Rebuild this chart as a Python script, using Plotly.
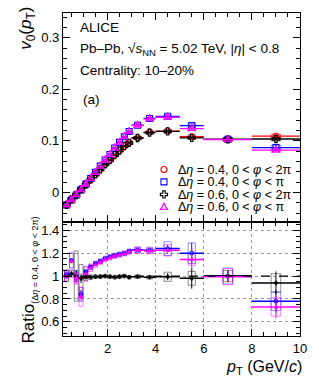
import plotly.graph_objects as go

# ---------------- data ----------------
pt = [0.3, 0.5, 0.7, 0.9, 1.1, 1.3, 1.5, 1.7, 1.9, 2.1, 2.3, 2.5, 2.7, 2.9, 3.25, 3.75, 4.5, 5.5, 7.0, 9.0]
pt_hw = [0.1]*14 + [0.25, 0.25, 0.5, 0.5, 1.0, 1.0]

# v0(pT), Δη=0.4, 0<φ<2π (red)
v0_a = [-0.024, -0.013, -0.005, 0.006, 0.0155, 0.025, 0.035, 0.045, 0.0545, 0.063, 0.073, 0.0815, 0.090, 0.097, 0.106, 0.117, 0.119, 0.108, 0.103, 0.109]
# Δη=0.4, 0<φ<π (blue)
v0_b = [-0.0244, -0.0148, -0.005, 0.005, 0.0161, 0.027, 0.0389, 0.0509, 0.0629, 0.0736, 0.0861, 0.097, 0.108, 0.118, 0.1304, 0.1434, 0.1476, 0.1296, 0.103, 0.087]
# Δη=0.6, 0<φ<2π (black)
v0_c = [-0.024, -0.0133, -0.005, 0.0059, 0.0153, 0.0248, 0.0348, 0.0448, 0.0545, 0.0627, 0.0723, 0.0811, 0.090, 0.096, 0.1055, 0.1158, 0.1183, 0.1058, 0.103, 0.1036]
# Δη=0.6, 0<φ<π (magenta)
v0_d = [-0.024, -0.0147, -0.0049, 0.0049, 0.0158, 0.0268, 0.0385, 0.0504, 0.0624, 0.0731, 0.0858, 0.0966, 0.1076, 0.1174, 0.1299, 0.1427, 0.1458, 0.1237, 0.1025, 0.082]
v0_stat = [0.0008]*14 + [0.001, 0.001, 0.0015, 0.002, 0.003, 0.004]
v0_sys = [0.0015]*14 + [0.002, 0.002, 0.0025, 0.003, 0.003, 0.004]

# ratios to Δη=0.4, 0<φ<2π
r_b = [1.015, 1.137, 1.0, 0.84, 1.04, 1.08, 1.11, 1.13, 1.154, 1.168, 1.18, 1.19, 1.20, 1.217, 1.23, 1.226, 1.24, 1.20, 1.0, 0.78]
r_c = [1.0, 1.02, 1.0, 0.98, 0.99, 0.99, 0.995, 0.995, 1.0, 0.995, 0.99, 0.995, 1.0, 0.99, 0.995, 0.99, 0.994, 0.98, 1.0, 0.94]
r_d = [1.0, 1.13, 0.98, 0.82, 1.02, 1.07, 1.10, 1.12, 1.145, 1.16, 1.175, 1.185, 1.195, 1.21, 1.225, 1.22, 1.225, 1.145, 0.995, 0.73]
r_stat = [0.01, 0.02, 0.05, 0.04, 0.015, 0.01, 0.008, 0.008, 0.008, 0.008, 0.008, 0.008, 0.008, 0.008, 0.01, 0.012, 0.03, 0.09, 0.05, 0.1]
r_b_sys = [0.04, 0.065, 0.05, 0.06, 0.04, 0.025, 0.02, 0.02, 0.02, 0.02, 0.02, 0.02, 0.02, 0.02, 0.025, 0.025, 0.06, 0.09, 0.07, 0.08]
r_c_sys = [0.05, 0.03, 0.22, 0.12, 0.03, 0.02, 0.015, 0.015, 0.015, 0.015, 0.015, 0.015, 0.015, 0.015, 0.015, 0.015, 0.04, 0.06, 0.05, 0.08]
r_d_sys = [0.04, 0.07, 0.05, 0.085, 0.065, 0.03, 0.025, 0.02, 0.02, 0.02, 0.02, 0.02, 0.02, 0.02, 0.025, 0.025, 0.05, 0.05, 0.07, 0.08]

box_hw = [0.08]*14 + [0.12, 0.12, 0.15, 0.15, 0.2, 0.2]

S = "\u00a0"
labels = [f"Δ<i>η</i>{S}={S}0.4,{S}0{S}<{S}<i>φ</i>{S}<{S}2π",
          f"Δ<i>η</i>{S}={S}0.4,{S}0{S}<{S}<i>φ</i>{S}<{S}π",
          f"Δ<i>η</i>{S}={S}0.6,{S}0{S}<{S}<i>φ</i>{S}<{S}2π",
          f"Δ<i>η</i>{S}={S}0.6,{S}0{S}<{S}<i>φ</i>{S}<{S}π"]
colors = ["#ff0000", "#0000ff", "#000000", "#ff00ff"]
box_colors = ["rgba(255,0,0,0.55)", "rgba(0,0,255,0.45)", "rgba(0,0,0,0.45)", "rgba(255,0,255,0.5)"]
symbols = ["circle-open", "square-open", "cross-open", "star-triangle-up-open"]


def boxes(x, y, hw, err):
    xs, ys = [], []
    for xi, yi, w, e in zip(x, y, hw, err):
        xs += [xi - w, xi + w, xi + w, xi - w, xi - w, None]
        ys += [yi - e, yi - e, yi + e, yi + e, yi - e, None]
    return xs, ys


fig = go.Figure()
FONT = "Liberation Sans, Arial, sans-serif"

top_series = [v0_a, v0_b, v0_c, v0_d]
for i, ys in enumerate(top_series):
    bx, by = boxes(pt, ys, box_hw, v0_sys)
    fig.add_trace(go.Scatter(x=bx, y=by, mode="lines", line=dict(color=box_colors[i], width=1),
                             xaxis="x", yaxis="y", showlegend=False, hoverinfo="skip"))
for i, ys in enumerate(top_series):
    fig.add_trace(go.Scatter(x=pt, y=ys, mode="markers",
                             marker=dict(symbol=symbols[i], color=colors[i], size=6, line=dict(width=1.1, color=colors[i])),
                             error_x=dict(type="data", array=pt_hw, color=colors[i], thickness=1.3, width=0),
                             error_y=dict(type="data", array=v0_stat, color=colors[i], thickness=1, width=0),
                             xaxis="x", yaxis="y", showlegend=False))

ratio_series = [(r_b, r_b_sys, 1), (r_c, r_c_sys, 2), (r_d, r_d_sys, 3)]
for rs, rsys, ci in ratio_series:
    bx, by = boxes(pt, rs, box_hw, rsys)
    fig.add_trace(go.Scatter(x=bx, y=by, mode="lines", line=dict(color=box_colors[ci], width=1),
                             xaxis="x2", yaxis="y2", showlegend=False, hoverinfo="skip"))
for rs, rsys, ci in ratio_series:
    fig.add_trace(go.Scatter(x=pt, y=rs, mode="markers",
                             marker=dict(symbol=symbols[ci], color=colors[ci], size=3, line=dict(width=1, color=colors[ci])),
                             error_x=dict(type="data", array=pt_hw, color=colors[ci], thickness=1.5, width=0),
                             error_y=dict(type="data", array=r_stat, color=colors[ci], thickness=1, width=0),
                             xaxis="x2", yaxis="y2", showlegend=False))

# legend (manual, compact)
leg_y = [0.252, 0.193, 0.133, 0.071]
for i in range(4):
    fig.add_trace(go.Scatter(x=[0.426], y=[leg_y[i]], mode="markers",
                             marker=dict(symbol=symbols[i], color=colors[i], size=6, line=dict(width=1.1, color=colors[i])),
                             xaxis="x3", yaxis="y3", showlegend=False, hoverinfo="skip"))

tickfont = dict(family=FONT, size=13, color="black")
common_x = dict(range=[0.15, 10], ticks="inside", ticklen=7, tickwidth=1, tickcolor="black",
                mirror="allticks", showline=True, linecolor="black", linewidth=1.3,
                dtick=2, tick0=0, zeroline=False,
                minor=dict(ticks="inside", ticklen=4, dtick=0.5, tick0=0, tickcolor="black", showgrid=False))

fig.update_layout(
    width=319, height=384,
    margin=dict(l=63, r=12, t=12, b=48),
    plot_bgcolor="white", paper_bgcolor="white",
    font=dict(family=FONT, color="black"),
    xaxis=dict(**common_x, domain=[0, 1], anchor="y", showticklabels=False, showgrid=False),
    yaxis=dict(domain=[0.352, 1], anchor="x", range=[-0.058, 0.348], dtick=0.1, tick0=0,
               ticks="inside", ticklen=7, tickcolor="black", mirror="allticks", showline=True,
               linecolor="black", linewidth=1.3, zeroline=False, showgrid=False, tickfont=tickfont,
               minor=dict(ticks="inside", ticklen=4, dtick=0.02, tick0=0, tickcolor="black")),
    xaxis2=dict(**common_x, domain=[0, 1], anchor="y2", showticklabels=True, tickfont=tickfont,
                showgrid=True, gridcolor="#999999", griddash="dot", gridwidth=1),
    yaxis2=dict(domain=[0, 0.352], anchor="x2", range=[0.476, 1.47], dtick=0.2, tick0=0,
                ticks="inside", ticklen=7, tickcolor="black", mirror="allticks", showline=True,
                linecolor="black", linewidth=1.3, zeroline=False, tickfont=tickfont,
                showgrid=True, gridcolor="#999999", griddash="dot", gridwidth=1,
                minor=dict(ticks="inside", ticklen=4, dtick=0.05, tick0=0, tickcolor="black", showgrid=False)),
    xaxis3=dict(domain=[0, 1], anchor="y3", range=[0, 1], visible=False, overlaying="x"),
    yaxis3=dict(domain=[0.352, 1], anchor="x3", range=[0, 1], visible=False, overlaying="y"),
    showlegend=False,
)

fig.add_shape(type="line", xref="x2", yref="y2", x0=0.15, x1=10, y0=1, y1=1,
              line=dict(color="black", width=1.2, dash="dash"))

ann = []
def add(text, x, y, size, xanchor="left", yanchor="middle", angle=0):
    ann.append(dict(text=text, x=x, y=y, xref="paper", yref="paper", showarrow=False,
                    xanchor=xanchor, yanchor=yanchor, textangle=angle,
                    font=dict(family=FONT, size=size, color="black")))

add("ALICE", 0.062, 0.954, 13.5)
add("Pb–Pb, √<i>s</i><sub>NN</sub> = 5.02 TeV, |<i>η</i>| < 0.8", 0.062, 0.886, 13.5)
add("Centrality: 10–20%", 0.062, 0.821, 13.5)
add("(a)", 0.075, 0.731, 13.5)
for i in range(4):
    py = 169 + i * 12.7
    add(labels[i], 0.475, (336 - py) / 324, 12.5)
add("<i>v</i><sub>0</sub>(<i>p</i><sub>T</sub>)", -0.205, 1.025, 17, xanchor="left", yanchor="top", angle=-90)
add("Ratio<sub><span style='font-size:9px'>(Δ<i>η</i> = 0.4, 0 < <i>φ</i> < 2π)</span></sub>",
    -0.195, -0.03, 17, xanchor="left", yanchor="bottom", angle=-90)
add("<i>p</i><sub>T</sub> (GeV/<i>c</i>)", 1.015, -0.097, 16, xanchor="right", yanchor="middle")
fig.update_layout(annotations=ann)

fig.write_html("out.html", config={"displayModeBar": False},
               post_script="document.body.style.margin='0';document.body.style.padding='0';")
